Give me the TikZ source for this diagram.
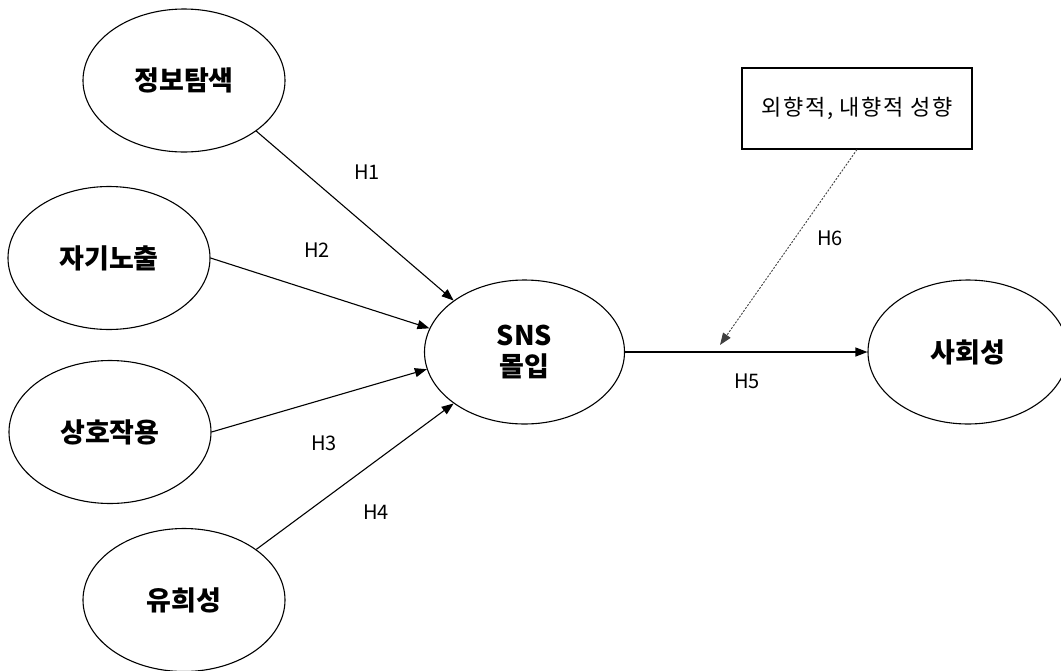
\documentclass[tikz,border=0pt]{standalone}
\usepackage{fontspec}
\setmainfont{Noto Sans CJK KR}
\newfontfamily\spacedfont{Noto Sans CJK KR}[LetterSpace=8]
\usetikzlibrary{shapes.geometric,arrows.meta}
\begin{document}
\begin{tikzpicture}[x=1pt,y=-1pt,
  construct/.style={ellipse, draw, line width=1.1pt, minimum width=202pt,
    minimum height=143pt, inner sep=0pt, align=center,
    font=\fontsize{27pt}{31pt}\selectfont\bfseries},
  traitbox/.style={draw, line width=1.1pt, minimum width=230pt,
    minimum height=81pt, inner sep=0pt,
    font=\spacedfont\fontsize{22pt}{26pt}\selectfont},
  link/.style={line width=1.1pt, -{Triangle[length=12pt,width=9pt]}},
  modlink/.style={line width=0.9pt, black!75, dash pattern=on 2pt off 1.5pt,
    -{Triangle[length=12pt,width=9pt]}},
  hyp/.style={font=\fontsize{20pt}{22pt}\selectfont, inner sep=0pt},
]
\useasboundingbox (0,0) rectangle (1061,670);

% antecedent constructs
\node[construct] (info)  at (184,80.5) {정보탐색};
\node[construct] (self)  at (109,258)  {자기노출};
\node[construct] (inter) at (110,432)  {상호작용};
\node[construct] (fun)   at (184,600)  {유희성};

% mediator and outcome
\node[construct, minimum width=200pt, minimum height=144pt] (sns) at (524.5,352) {SNS\\몰입};
\node[construct, minimum width=200pt, minimum height=144pt] (social) at (968,352) {사회성};

% moderator
\node[traitbox] (trait) at (857,108.5) {외향적, 내향적 성향};
\coordinate (mod) at (720,345);

% paths
\draw[link] (info.325) -- (sns.144);
\draw[link] (self.east) -- (sns.166);
\draw[link] (inter.east) -- (sns.190);
\draw[link] (fun.35) -- (sns.216);
\draw[link] (sns.east) -- (social.west);
\draw[modlink] (trait.south) -- (mod);

% hypothesis labels
\node[hyp] (h1) at (367,172) {H1};
\node[hyp] (h2) at (317,250) {H2};
\node[hyp] (h3) at (324,443) {H3};
\node[hyp] (h4) at (376,512) {H4};
\node[hyp] (h5) at (747,381) {H5};
\node[hyp] (h6) at (830,238) {H6};
\end{tikzpicture}
\end{document}
